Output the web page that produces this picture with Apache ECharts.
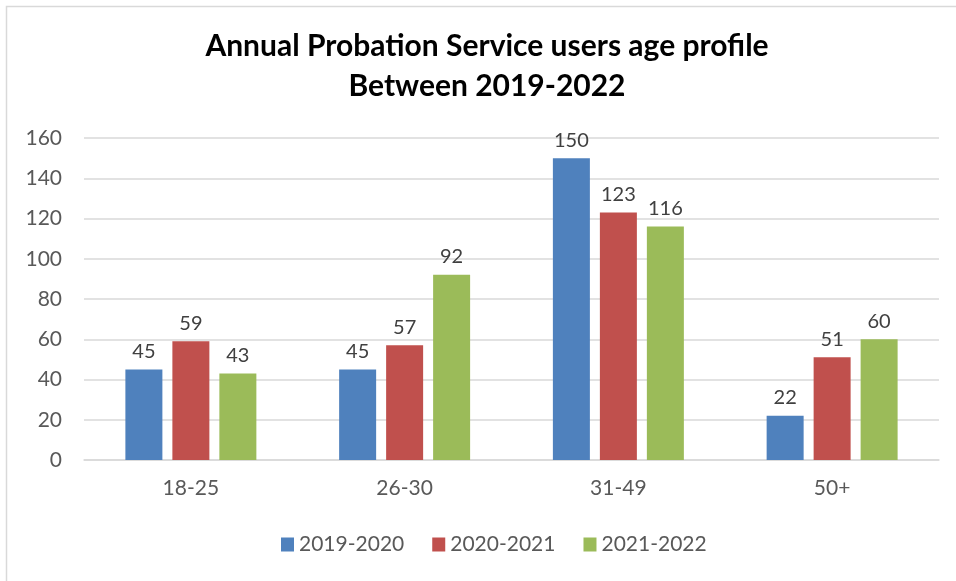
<!DOCTYPE html>
<html><head><meta charset="utf-8">
<script src="https://cdn.jsdelivr.net/npm/echarts@6/dist/echarts.min.js"></script>
<style>html,body{margin:0;padding:0;background:#fff}#c{width:956px;height:581px}</style>
</head><body><div id="c"></div>
<script>
const categories = ['18-25', '26-30', '31-49', '50+'];
const seriesNames = ['2019-2020', '2020-2021', '2021-2022'];
const values2019 = [45, 45, 150, 22];
const values2020 = [59, 57, 123, 51];
const values2021 = [43, 92, 116, 60];
const colors = ['#4F81BD', '#C0504D', '#9BBB59'];
const titleText = 'Annual Probation Service users age profile\nBetween 2019-2022';

const chart = echarts.init(document.getElementById('c'), null, {renderer: 'canvas'});
const font = 'Lato, "Open Sans", sans-serif';
const data = [values2019, values2020, values2021];
chart.setOption({
  animation: false,
  textStyle: {fontFamily: font},
  graphic: [{type: 'rect', shape: {x: 6.5, y: 6.5, width: 1000, height: 700}, style: {fill: 'none', stroke: '#d9d9d9', lineWidth: 1.5}, silent: true}],
  title: {
    text: titleText, left: 482, textAlign: 'center', top: 21,
    textStyle: {fontFamily: font, fontWeight: 'bold', fontSize: 30, color: '#000', lineHeight: 40}
  },
  legend: {
    bottom: 21, left: 276, itemWidth: 13, itemHeight: 14, itemGap: 28,
    icon: 'rect', textStyle: {fontFamily: font, fontSize: 21, color: '#595959'},
    data: seriesNames
  },
  grid: {left: 84, right: 17, top: 138, bottom: 121},
  xAxis: {
    type: 'category', data: categories,
    axisLine: {lineStyle: {color: '#d9d9d9', width: 1.5}},
    axisTick: {show: false},
    axisLabel: {fontFamily: font, fontSize: 21, color: '#595959', margin: 18}
  },
  yAxis: {
    type: 'value', min: 0, max: 160, interval: 20,
    axisLine: {show: false}, axisTick: {show: false},
    splitLine: {lineStyle: {color: '#d9d9d9', width: 1.5}},
    axisLabel: {fontFamily: font, fontSize: 21, color: '#595959', margin: 22}
  },
  series: seriesNames.map((n, i) => ({
    name: n, type: 'bar', data: data[i],
    barWidth: 37, barGap: '27%',
    itemStyle: {color: colors[i]},
    label: {show: true, position: 'top', distance: 8, fontFamily: font, fontSize: 20, color: '#404040'}
  }))
});
</script></body></html>
